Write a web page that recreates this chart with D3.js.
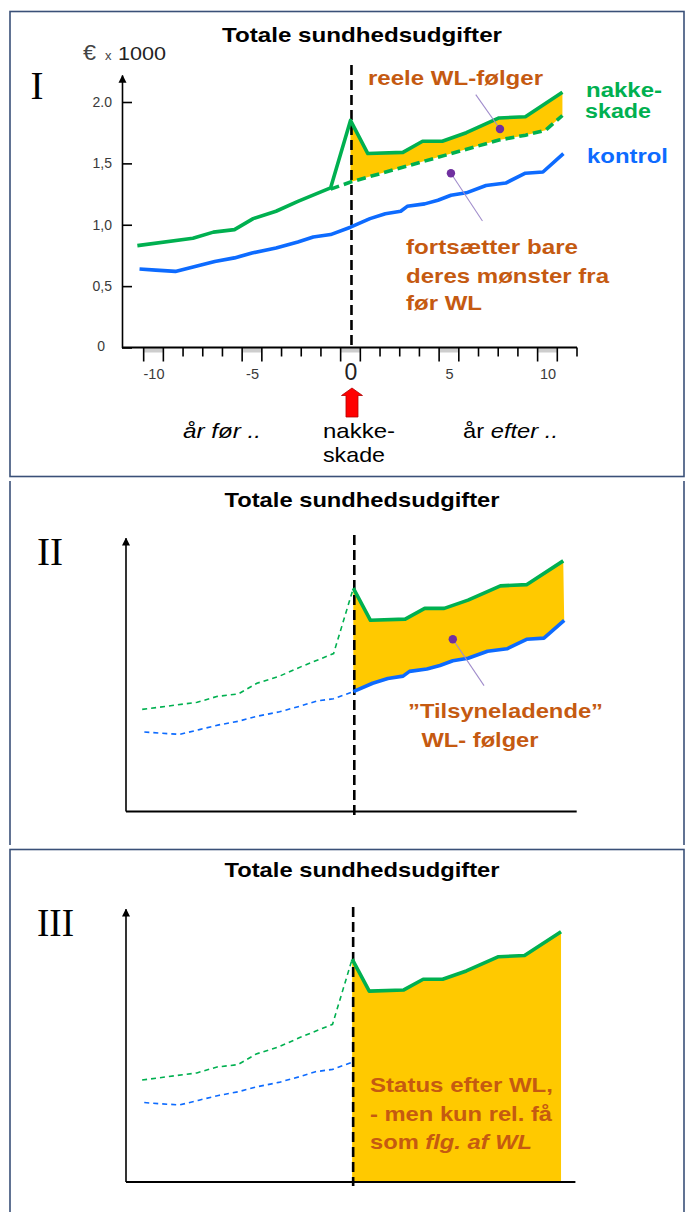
<!DOCTYPE html>
<html><head><meta charset="utf-8">
<script src="https://cdn.jsdelivr.net/npm/d3@7/dist/d3.min.js"></script>
<style>
body{margin:0;background:#fff}
svg{display:block}
text{font-family:"Liberation Sans",Arial,sans-serif}
</style>
</head><body>
<svg id="c" width="688" height="1212"></svg>
<script>
// ---------- data ----------
const title = "Totale sundhedsudgifter";
// nakkeskade (neck injury group), € x1000 per year relative to injury
const years_nakke  = [-10.82, -8.0, -6.96, -5.89, -4.94, -3.78, -2.67, -1.01, 0, 0.88, 2.66, 3.66, 4.66, 5.88, 7.54, 8.88, 10.76];
const values_nakke = [0.83, 0.89, 0.94, 0.96, 1.05, 1.11, 1.19, 1.30, 1.85, 1.58, 1.59, 1.68, 1.68, 1.75, 1.87, 1.88, 2.08];
// counterfactual continuation of the pre-injury pattern (dashed)
const years_cf  = [-1.01, 0.04, 7.54, 8.89, 9.9, 10.76];
const values_cf = [1.29, 1.35, 1.69, 1.73, 1.77, 1.89];
// kontrol group
const years_kontrol  = [-10.71, -9.89, -8.89, -7.89, -6.89, -5.89, -5.0, -3.78, -2.67, -1.89, -1.01, 0, 0.99, 1.77, 2.55, 2.88, 3.77, 4.44, 5.10, 5.88, 6.88, 7.88, 8.88, 9.77, 10.81];
const values_kontrol = [0.64, 0.63, 0.62, 0.66, 0.70, 0.73, 0.77, 0.81, 0.86, 0.90, 0.92, 0.98, 1.05, 1.09, 1.11, 1.15, 1.17, 1.20, 1.24, 1.26, 1.32, 1.34, 1.42, 1.43, 1.58];
// ticks
const yTickValues = [0, 0.5, 1, 1.5, 2];
const yTickLabels = ["0", "0,5", "1,0", "1,5", "2.0"];
const xTickValues = [-10, -5, 0, 5, 10];
const xTickLabels = ["-10", "-5", "0", "5", "10"];
// annotation anchors (year, value)
const dotReal = [7.59, 1.78], dotRealEnd = [6.36, 2.06];
const dotTrend = [5.1, 1.42], dotTrendEnd = [6.7, 1.03];

// ---------- helpers ----------
const C = {green:"#00B050", blue:"#0D6BFF", yellow:"#FFC900", orange:"#C55A11", purple:"#7030A0", lead:"#A08CCB", border:"#3A5078"};
const SERIF = '"Liberation Serif","Times New Roman",serif';
const nakke = d3.zip(years_nakke, values_nakke);
const cf = d3.zip(years_cf, values_cf);
const kontrol = d3.zip(years_kontrol, values_kontrol);
function interp(series, t){
  for(let i=1;i<series.length;i++){
    const a=series[i-1], b=series[i];
    if(t>=a[0] && t<=b[0]){ const f=(t-a[0])/(b[0]-a[0]); return a[1]+f*(b[1]-a[1]); }
  }
  return series[series.length-1][1];
}
const pre = s => s.filter(d=>d[0]<=0);
const post = s => s.filter(d=>d[0]>=0);

const svg = d3.select("#c");
const defs = svg.append("defs");
defs.append("marker").attr("id","arrow").attr("viewBox","0 0 10 10").attr("refX",9).attr("refY",5)
  .attr("markerWidth",5).attr("markerHeight",6).attr("orient","auto")
  .append("path").attr("d","M0,0L10,5L0,10z").attr("fill","#000");

// panel frames
svg.append("rect").attr("x",10).attr("y",11.5).attr("width",674).attr("height",465)
  .attr("fill","none").attr("stroke",C.border).attr("stroke-width",1.6);
svg.append("line").attr("x1",10).attr("x2",10).attr("y1",481).attr("y2",845).attr("stroke",C.border).attr("stroke-width",1.6);
svg.append("line").attr("x1",684).attr("x2",684).attr("y1",481).attr("y2",845).attr("stroke",C.border).attr("stroke-width",1.6);
svg.append("rect").attr("x",10).attr("y",849.5).attr("width",674).attr("height",400)
  .attr("fill","none").attr("stroke",C.border).attr("stroke-width",1.6);

function txt(g, s, x, y, o){
  o = o||{};
  const t = g.append("text").attr("x",x).attr("y",y).text(s)
    .attr("font-size",o.size||20).attr("fill",o.fill||"#000")
    .attr("font-weight",o.bold?"bold":"normal")
    .attr("text-anchor",o.anchor||"start");
  if(o.italic) t.attr("font-style","italic");
  if(o.family) t.style("font-family",o.family);
  if(o.len) t.attr("textLength",o.len).attr("lengthAdjust","spacingAndGlyphs");
  return t;
}

const panels = [
  {x:d3.scaleLinear().domain([-11.6,11.5]).range([122,577]),   y:d3.scaleLinear().domain([0,2.22]).range([347.5,75]),     title:41.7, roman:"I",   rx:30.5, ry:99,  rlen:13, dash:[65,347.5]},
  {x:d3.scaleLinear().domain([-11.65,11.45]).range([126,576.7]),y:d3.scaleLinear().domain([-0.03,2.27]).range([811.6,538.3]),title:506.7,roman:"II",  rx:37,   ry:565, rlen:26, dash:[535,815]},
  {x:d3.scaleLinear().domain([-11.65,11.5]).range([126,575.4]), y:d3.scaleLinear().domain([-0.03,2.27]).range([1182,909.3]), title:877.3,roman:"III", rx:37,   ry:936, rlen:37, dash:[907,1186]}
];

panels.forEach((p,i)=>{
  const g = svg.append("g");
  const x = p.x, y = p.y;
  const [x0,x1] = x.range(), [yb,yt] = y.range();
  txt(g, title, 362, p.title, {size:21, bold:true, anchor:"middle", len:i===0?280:275});
  txt(g, p.roman, p.rx, p.ry, {size:40, family:SERIF, len:p.rlen});

  const line = d3.line().x(d=>x(d[0])).y(d=>y(d[1]));

  // fills
  if(i===0){
    const top = post(nakke);
    const bottom = [[0, interp(cf,0)]].concat(cf.filter(d=>d[0]>0));
    g.append("path").attr("d", line(top.concat(bottom.slice().reverse()))+"Z").attr("fill",C.yellow);
  } else if(i===1){
    const poly = post(nakke).concat(post(kontrol).slice().reverse());
    g.append("path").attr("d", line(poly)+"Z").attr("fill",C.yellow);
  } else {
    const top = post(nakke);
    const area = d3.area().x(d=>x(d[0])).y0(yb).y1(d=>y(d[1]));
    g.append("path").attr("d", area(top)).attr("fill",C.yellow);
  }

  // axes
  if(i===0){
    const ya = g.append("g").attr("transform",`translate(${x0},0)`)
      .call(d3.axisLeft(y).tickValues(yTickValues).tickFormat((d,k)=>yTickLabels[k]).tickSize(-10).tickSizeOuter(0).tickPadding(10));
    ya.select(".domain").attr("stroke","#000").attr("stroke-width",1.6).attr("marker-end","url(#arrow)");
    ya.selectAll(".tick line").attr("stroke","#000").attr("stroke-width",1.6);
    ya.selectAll(".tick text").attr("font-size",14).attr("fill","#3a3a3a");
    ya.selectAll(".tick").filter(d=>d===0).select("text").attr("x",-17).attr("dy","0.2em");
    // x axis with band ticks
    const base = y(0);
    xTickValues.forEach(v=>{
      g.append("rect").attr("x",x(v-0.5)).attr("y",base).attr("width",x(v+0.5)-x(v-0.5)).attr("height",5).attr("fill","#cdcdcd");
    });
    d3.range(-10.5, 11.51, 1).forEach(b=>{
      const long = xTickValues.some(v=>Math.abs(v-b)===0.5);
      g.append("line").attr("x1",x(b)).attr("x2",x(b)).attr("y1",base).attr("y2",base+(long?14:9))
        .attr("stroke","#000").attr("stroke-width",1.6);
    });
    g.append("line").attr("x1",x0).attr("x2",x1).attr("y1",base).attr("y2",base).attr("stroke","#000").attr("stroke-width",1.8);
    const xa = g.append("g").attr("transform",`translate(0,${base})`)
      .call(d3.axisBottom(x).tickValues(xTickValues).tickFormat((d,k)=>xTickLabels[k]).tickSize(0));
    xa.select(".domain").remove();
    xa.selectAll(".tick text").attr("y",31).attr("dy",0).attr("font-size",14.5).attr("fill","#3a3a3a");
    xa.selectAll(".tick").filter(d=>d===0).select("text").attr("font-size",23).attr("fill","#222").attr("y",32.5);
  } else {
    g.append("line").attr("x1",x0).attr("x2",x0).attr("y1",yb).attr("y2",yt)
      .attr("stroke","#000").attr("stroke-width",1.6).attr("marker-end","url(#arrow)");
    g.append("line").attr("x1",x0).attr("x2",x1).attr("y1",yb).attr("y2",yb).attr("stroke","#000").attr("stroke-width",2);
  }

  // vertical injury line
  g.append("line").attr("x1",x(0)+1).attr("x2",x(0)+1).attr("y1",p.dash[0]).attr("y2",p.dash[1])
    .attr("stroke","#000").attr("stroke-width",2.6).attr("stroke-dasharray","10,5");

  // lines
  if(i===0){
    g.append("path").attr("d",line(cf)).attr("fill","none").attr("stroke",C.green).attr("stroke-width",3.6).attr("stroke-dasharray","9,5");
    g.append("path").attr("d",line(nakke)).attr("fill","none").attr("stroke",C.green).attr("stroke-width",3.6).attr("stroke-linejoin","round");
    g.append("path").attr("d",line(kontrol)).attr("fill","none").attr("stroke",C.blue).attr("stroke-width",3.6).attr("stroke-linejoin","round");
  } else {
    g.append("path").attr("d",line(pre(nakke))).attr("fill","none").attr("stroke",C.green).attr("stroke-width",1.6).attr("stroke-dasharray","5,4");
    g.append("path").attr("d",line(pre(kontrol))).attr("fill","none").attr("stroke",C.blue).attr("stroke-width",1.6).attr("stroke-dasharray","5,4");
    g.append("path").attr("d",line(post(nakke))).attr("fill","none").attr("stroke",C.green).attr("stroke-width",3.6).attr("stroke-linejoin","round");
    if(i===1) g.append("path").attr("d",line(post(kontrol))).attr("fill","none").attr("stroke",C.blue).attr("stroke-width",3.6).attr("stroke-linejoin","round");
  }

  // annotations
  function leader(a,b){
    g.append("line").attr("x1",x(a[0])).attr("y1",y(a[1])).attr("x2",x(b[0])).attr("y2",y(b[1])).attr("stroke",C.lead).attr("stroke-width",1.1);
    g.append("circle").attr("cx",x(a[0])).attr("cy",y(a[1])).attr("r",4.2).attr("fill",C.purple);
  }
  if(i===0){
    leader(dotReal, dotRealEnd);
    leader(dotTrend, dotTrendEnd);
    txt(g,"reele WL-følger",368,85,{size:20,bold:true,fill:C.orange,len:175});
    txt(g,"nakke-",586,96.7,{size:20,bold:true,fill:C.green,len:76});
    txt(g,"skade",585,118.3,{size:20,bold:true,fill:C.green,len:66});
    txt(g,"kontrol",587,162.7,{size:20,bold:true,fill:C.blue,len:81});
    txt(g,"fortsætter bare",406,254,{size:21,bold:true,fill:C.orange,len:172});
    txt(g,"deres mønster fra",406,282.7,{size:21,bold:true,fill:C.orange,len:203});
    txt(g,"før WL",406,310,{size:21,bold:true,fill:C.orange,len:76});
    // € x1000
    txt(g,"€",83,60,{size:22,fill:"#444",len:13});
    txt(g,"x",105,60,{size:13,fill:"#444"});
    txt(g,"1000",118,60,{size:19,fill:"#222",len:48});
    // red arrow under 0
    const ax = x(0)+1.5;
    g.append("path").attr("d",`M${ax},388 L${ax+10.5},395.5 L${ax+6},395.5 L${ax+6},417 L${ax-6},417 L${ax-6},395.5 L${ax-10.5},395.5 Z`)
      .attr("fill","#FF0000").attr("stroke","#B00000").attr("stroke-width",0.8);
    txt(g,"år før ..",183,438,{size:21,italic:true,len:78});
    txt(g,"nakke-",323,438.3,{size:21,len:72});
    txt(g,"skade",323,461.7,{size:21,len:62});
    const t = g.append("text").attr("x",463).attr("y",438).attr("font-size",21).attr("textLength",95).attr("lengthAdjust","spacingAndGlyphs");
    t.append("tspan").text("år ");
    t.append("tspan").attr("font-style","italic").text("efter ..");
  } else if(i===1){
    leader(dotTrend, dotTrendEnd);
    txt(g,"\u201DTilsyneladende\u201D",408,717.5,{size:21,bold:true,fill:C.orange,len:195});
    txt(g,"WL- følger",421.5,746.5,{size:21,bold:true,fill:C.orange,len:117});
  } else {
    txt(g,"Status efter WL,",370,1091.7,{size:21,bold:true,fill:C.orange,len:183});
    txt(g,"- men kun rel. få",370,1121,{size:21,bold:true,fill:C.orange,len:182});
    const t = g.append("text").attr("x",370).attr("y",1149).attr("font-size",21).attr("font-weight","bold").attr("fill",C.orange)
      .attr("textLength",162).attr("lengthAdjust","spacingAndGlyphs");
    t.append("tspan").text("som ");
    t.append("tspan").attr("font-style","italic").text("flg. af WL");
  }
});
</script>
</body></html>
